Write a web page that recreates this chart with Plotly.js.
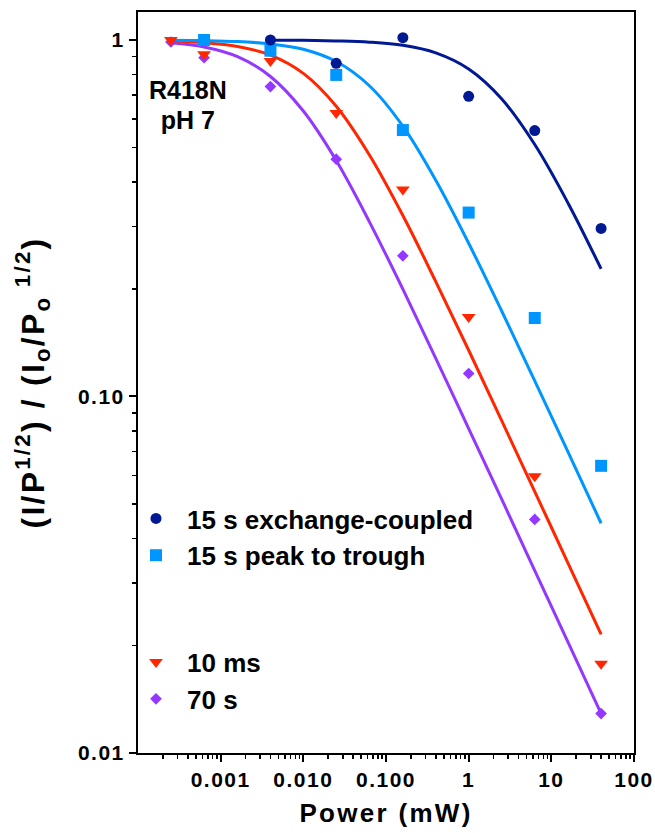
<!DOCTYPE html>
<html>
<head>
<meta charset="utf-8">
<script src="https://cdn.plot.ly/plotly-3.0.1.min.js"></script>
<style>
  html, body { margin: 0; padding: 0; background: #ffffff; }
  #chart { width: 655px; height: 833px; }
  /* wide, airy lettering of the axis labels */
  #chart .xtick text, #chart .ytick text { letter-spacing: 1.5px; }
  #chart .xtitle { letter-spacing: 2.3px; }
  #chart .ytitle { letter-spacing: 2.2px; }
</style>
</head>
<body>
<div id="chart"></div>
<script>
// Measured points: microwave power (mW) vs normalised signal
const powerAll = [0.00025, 0.00063, 0.004, 0.025, 0.16, 1, 6.3, 40];
const powerExch = [0.004, 0.025, 0.16, 1, 6.3, 40];
const powerPeak = [0.00063, 0.004, 0.025, 0.16, 1, 6.3, 40];

const exchCoupled = [1.00, 0.86, 1.015, 0.695, 0.557, 0.296];
const peakTrough = [1.00, 0.933, 0.798, 0.559, 0.328, 0.166, 0.0639];
const tenMs = [1.00, 0.912, 0.873, 0.624, 0.381, 0.167, 0.0597, 0.0178];
const seventyS = [0.987, 0.892, 0.74, 0.463, 0.248, 0.116, 0.0452, 0.0129];

// Fitted saturation curves, sampled along the power axis
const curvePower = [0.00025, 0.00063, 0.0016, 0.004, 0.01, 0.025, 0.063, 0.16, 0.4, 1, 2.5, 6.3, 16, 40];
const curveExchPower = [0.004, 0.01, 0.025, 0.063, 0.16, 0.4, 1, 2.5, 6.3, 16, 40];
const fitExch = [0.999, 0.998, 0.994, 0.986, 0.966, 0.920, 0.829, 0.684, 0.509, 0.348, 0.228];
const fitPeak = [0.998, 0.996, 0.990, 0.975, 0.942, 0.870, 0.744, 0.573, 0.404, 0.269, 0.174, 0.1106, 0.0697, 0.0441];
const fitTenMs = [0.993, 0.983, 0.959, 0.907, 0.806, 0.652, 0.476, 0.322, 0.210, 0.1348, 0.0857, 0.0541, 0.0340, 0.0215];
const fitSeventy = [0.982, 0.956, 0.898, 0.790, 0.632, 0.459, 0.309, 0.200, 0.128, 0.0813, 0.0516, 0.0325, 0.0204, 0.0129];

const xTickVals = [0.001, 0.01, 0.1, 1, 10, 100];
const xTickText = ['0.001', '0.010', '0.100', '1', '10', '100'];
const yTickVals = [0.01, 0.1, 1];
const yTickText = ['0.01', '0.10', '1'];

const seriesNames = ['15 s exchange-coupled', '15 s peak to trough', '10 ms', '70 s'];
const sampleLabel = ['R418N', 'pH 7'];
const colors = { navy: '#011993', aqua: '#0096FF', red: '#FF2600', grape: '#9437FF' };

// minor ticks at 2..9 within each decade
function minorTicks(lo, hi) {
  const v = [];
  for (let e = lo; e < hi; e++) {
    for (let m = 2; m <= 9; m++) v.push(m * Math.pow(10, e));
  }
  return v;
}

const FONT = 'Liberation Sans, Arial, Helvetica, sans-serif';
const PLOT = { left: 138, top: 12, width: 496, height: 741 };
const px2x = px => (px - PLOT.left) / PLOT.width;
const px2y = py => 1 - (py - PLOT.top) / PLOT.height;

function fitLine(x, y, color) {
  return {
    x: x, y: y, type: 'scatter', mode: 'lines',
    line: { color: color, width: 3, shape: 'spline', smoothing: 1 },
    showlegend: false, hoverinfo: 'skip'
  };
}

const traces = [
  fitLine(curvePower, fitSeventy, colors.grape),
  fitLine(curvePower, fitTenMs, colors.red),
  fitLine(curvePower, fitPeak, colors.aqua),
  fitLine(curveExchPower, fitExch, colors.navy),
  {
    x: powerAll, y: seventyS, type: 'scatter', mode: 'markers', name: seriesNames[3],
    marker: { symbol: 'diamond', size: 9, color: colors.grape },
    legendgroup: 'b', legendrank: 4
  },
  {
    x: powerAll, y: tenMs, type: 'scatter', mode: 'markers', name: seriesNames[2],
    marker: { symbol: 'triangle-down', size: 12, color: colors.red },
    legendgroup: 'b', legendrank: 3
  },
  {
    x: powerPeak, y: peakTrough, type: 'scatter', mode: 'markers', name: seriesNames[1],
    marker: { symbol: 'square', size: 12, color: colors.aqua },
    legendgroup: 'a', legendrank: 2
  },
  {
    x: powerExch, y: exchCoupled, type: 'scatter', mode: 'markers', name: seriesNames[0],
    marker: { symbol: 'circle', size: 11, color: colors.navy },
    legendgroup: 'a', legendrank: 1
  }
];

const axisCommon = {
  type: 'log',
  showgrid: false,
  zeroline: false,
  showline: true,
  linecolor: '#000',
  linewidth: 2,
  mirror: true,
  ticks: 'outside',
  ticklen: 7,
  tickwidth: 2,
  tickcolor: '#000',
  tickfont: { family: FONT, size: 21, color: '#000', weight: 700 },
  tickmode: 'array'
};

// sample label: a smaller base size keeps the two lines close together
const labelText = sampleLabel.map(s => '<span style="font-size:25px">' + s + '</span>').join('<br>');

const layout = {
  width: 655,
  height: 833,
  margin: { l: PLOT.left, r: 655 - PLOT.left - PLOT.width, t: PLOT.top, b: 833 - PLOT.top - PLOT.height },
  paper_bgcolor: '#fff',
  plot_bgcolor: '#fff',
  font: { family: FONT, color: '#000', weight: 700 },
  xaxis: Object.assign({}, axisCommon, {
    range: [-4, 2],
    tickvals: xTickVals,
    ticktext: xTickText,
    minor: { tickmode: 'array', tickvals: minorTicks(-4, 2), ticks: 'outside', ticklen: 4, tickwidth: 1.5, tickcolor: '#000' },
    title: { text: 'Power (mW)', font: { family: FONT, size: 26, color: '#000', weight: 700 }, standoff: 14 }
  }),
  yaxis: Object.assign({}, axisCommon, {
    range: [-2, 0.0785],
    tickvals: yTickVals,
    ticktext: yTickText,
    minor: { tickmode: 'array', tickvals: minorTicks(-2, 0), ticks: 'outside', ticklen: 4, tickwidth: 1.5, tickcolor: '#000' },
    title: {
      text: '(I/P<sup>1/2</sup>) / (I<sub>o</sub>/P<sub>o</sub><sup> 1/2</sup>)',
      font: { family: FONT, size: 32, color: '#000', weight: 700 },
      standoff: 30
    }
  }),
  legend: {
    x: px2x(125),
    y: px2y(495),
    xanchor: 'left',
    yanchor: 'top',
    bgcolor: 'rgba(0,0,0,0)',
    traceorder: 'grouped',
    tracegroupgap: 70,
    font: { family: FONT, size: 26, color: '#000', weight: 700 },
    itemwidth: 52
  },
  annotations: [
    {
      xref: 'paper', yref: 'paper',
      x: px2x(188), y: px2y(105),
      xanchor: 'center', yanchor: 'middle',
      text: labelText, showarrow: false, align: 'center',
      font: { family: FONT, size: 23, color: '#000', weight: 700 }
    }
  ],
  showlegend: true
};

Plotly.newPlot('chart', traces, layout, { displayModeBar: false, staticPlot: true });
</script>
</body>
</html>
